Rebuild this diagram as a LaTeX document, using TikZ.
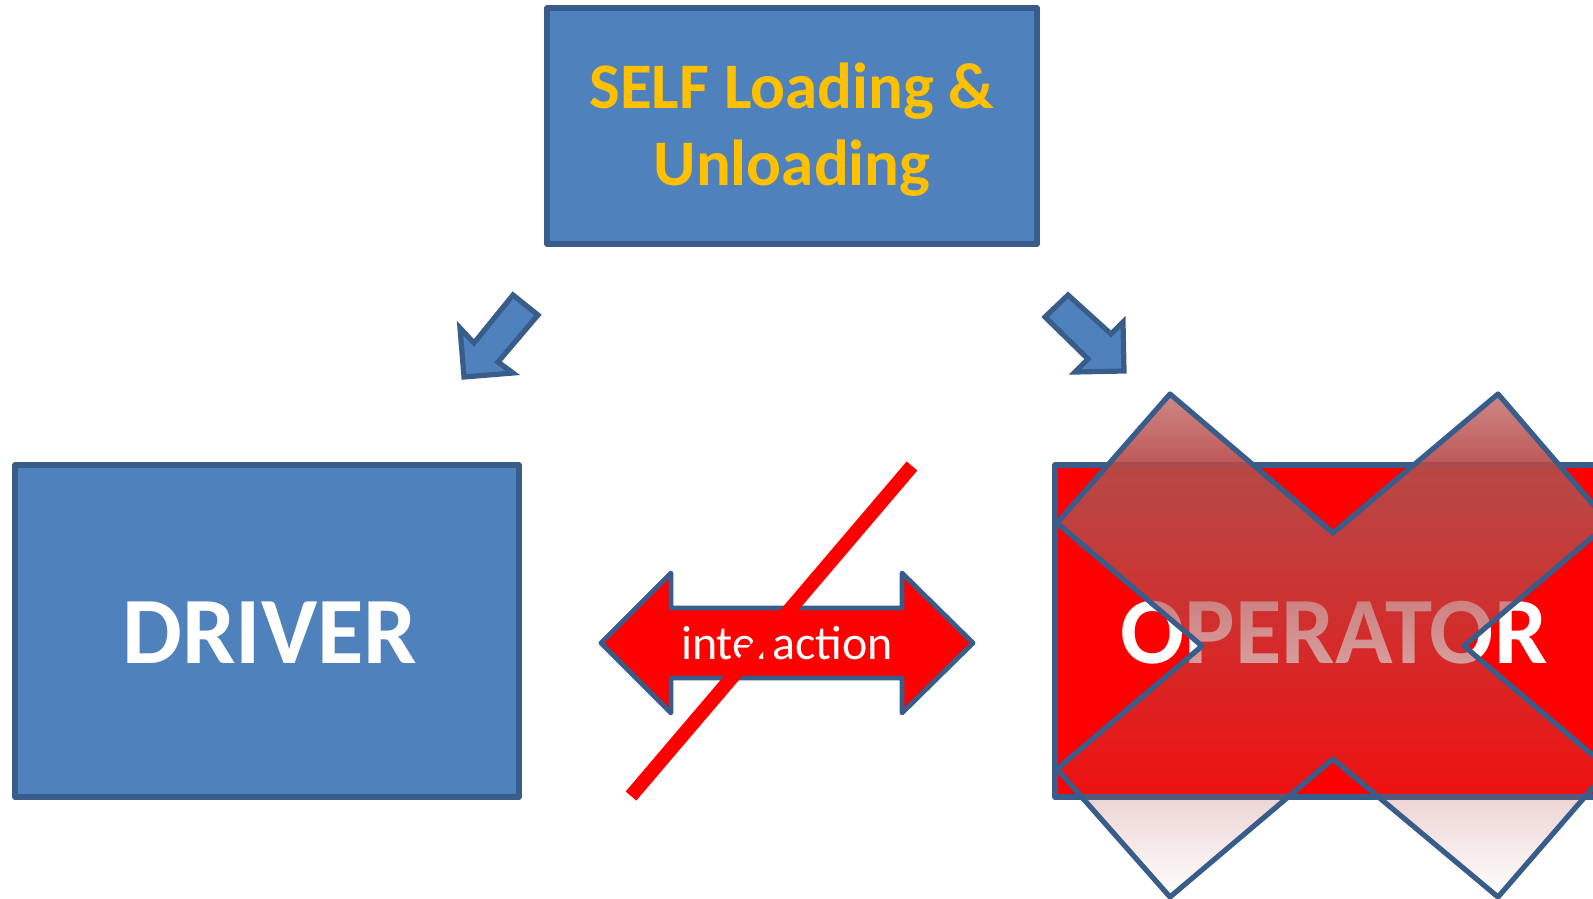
\documentclass[tikz,border=0pt]{standalone}
\usepackage{fontspec}
\setmainfont{Carlito}
\usetikzlibrary{fadings}
\definecolor{boxblue}{RGB}{79,129,189}
\definecolor{edgeblue}{RGB}{56,93,138}
\definecolor{selfgold}{RGB}{255,192,0}
\definecolor{crossred}{RGB}{182,74,72}
\pgfdeclareverticalshading{crossmask}{100bp}{color(0bp)=(black);
  color(25bp)=(black); color(66.5bp)=(white!97!black);
  color(75bp)=(white!66!black); color(100bp)=(white!66!black)}
\tikzfading[name=crossfade, shading=crossmask]
\tikzset{
  panel/.style={draw=edgeblue, line width=5.4pt, fill=boxblue},
  hintarrow/.style={draw=edgeblue, line width=5.2pt, fill=boxblue, line join=miter},
  bigword/.style={anchor=base, text=white, font=\fontsize{95}{100}\selectfont\bfseries},
}

\begin{document}
\begin{tikzpicture}[x=1pt, y=-1pt, line join=round]
  \useasboundingbox (0,0) rectangle (1593,899);
  \clip (0,0) rectangle (1593,899);

  % top box
  \draw[panel] (547,8) rectangle (1037,244);
  \node[anchor=base, text=selfgold, font=\fontsize{65}{77}\selectfont\bfseries]
    (selfA) at (792,108) {SELF Loading \&};
  \node[anchor=base, text=selfgold, font=\fontsize{65}{77}\selectfont\bfseries]
    (selfB) at (792,185) {Unloading};

  \draw[hintarrow] (513,295) -- (538,315) -- (498,362) -- (513,373)
    -- (464,377) -- (460,328) -- (474,343) -- cycle;
  \draw[hintarrow] (1068,295) -- (1045,317) -- (1088,359) -- (1075,372)
    -- (1124,371) -- (1123,322) -- (1111,334) -- cycle;

  % driver and operator
  \draw[panel] (15,465) rectangle (519,797);
  \node[bigword] (driver) at (270,663) {DRIVER};

  \draw[draw=edgeblue, line width=5.4pt, fill=red] (1055,465) rectangle (1640,797);
  \node[bigword] (operator) at (1334,663) {OPERATOR};

  % interaction arrow
  \draw[draw=edgeblue, line width=4.8pt, fill=red]
    (601,643) -- (671,573) -- (671,608) -- (902,608) -- (902,573) -- (973,643)
    -- (902,713) -- (902,678) -- (671,678) -- (671,713) -- cycle;
  \node[anchor=base, text=white, font=\fontsize{48}{50}\selectfont]
    (inter) at (787,659) {interaction};
  \draw[red, line width=14pt] (912,466) -- (631,796);

  % cross over the operator
  \path[save path=\crossp, fill=crossred, path fading=crossfade]
    (1170,394) -- (1333,533) -- (1498,394) -- (1609,523) -- (1464,646)
    -- (1609,769) -- (1498,897) -- (1333,759) -- (1170,897) -- (1057,769)
    -- (1202,646) -- (1057,523) -- cycle;
  \draw[edgeblue, line width=5.2pt, use path=\crossp];
\end{tikzpicture}
\end{document}
